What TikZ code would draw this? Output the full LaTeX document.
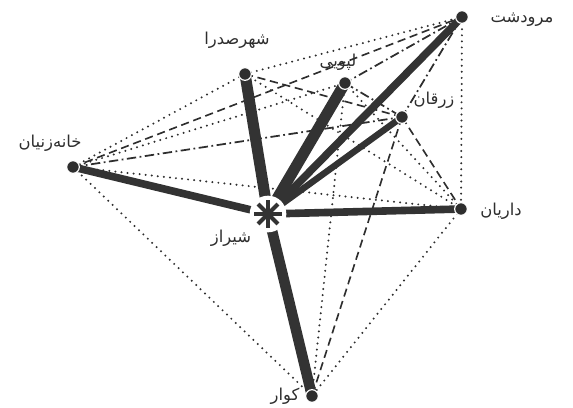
\documentclass[tikz,border=0pt]{standalone}
\usepackage{fontspec}
\usepackage{xcolor}
\usetikzlibrary{positioning,calc}
\newfontfamily\arabicfont[Script=Arabic]{DejaVu Sans}
\TeXXeTstate=1
\definecolor{ink}{HTML}{2E2E2E}
\definecolor{road}{HTML}{333333}
\tikzset{
    every picture/.style={line cap=round,line join=round},
    town/.style={circle,fill=ink,draw=white,line width=1pt,minimum size=3.8mm,inner sep=0pt},
    hub/.style={circle,fill=white,minimum size=11mm,inner sep=0pt},
    townlabel/.style={font=\arabicfont\fontsize{14}{16}\selectfont,text=ink,inner sep=1pt},
    mainroad/.style={draw=road,line cap=butt},
    dotlink/.style={draw=ink,line width=1.9pt,dash pattern=on 0pt off 5.2pt},
    dashlink/.style={draw=ink,line width=1.4pt,line cap=butt,dash pattern=on 7pt off 4pt},
    dashdotlink/.style={draw=ink,line width=1.5pt,line cap=butt,
      dash pattern=on 8pt off 3pt on 1.5pt off 3pt}
}
\newcommand{\rtl}[1]{\beginR #1\endR}
\begin{document}
\begin{tikzpicture}[x=0.03cm,y=-0.03cm]
  \useasboundingbox (0,0) rectangle (573,407);
  % towns
  \coordinate (shiraz) at (268,214);
  \coordinate (marv) at (462,17);
  \coordinate (sadra) at (245,74);
  \coordinate (lapui) at (345,83);
  \coordinate (zarqan) at (402,117);
  \coordinate (khaneh) at (73,167);
  \coordinate (daryan) at (461,209);
  \coordinate (kavar) at (312,396);
  % secondary links
  \draw[dotlink] (khaneh) -- (sadra);
  \draw[dotlink] (khaneh) -- (lapui);
  \draw[dotlink] (khaneh) -- (daryan);
  \draw[dotlink] (khaneh) -- (kavar);
  \draw[dotlink] (sadra) -- (marv);
  \draw[dotlink] (sadra) -- (daryan);
  \draw[dotlink] (lapui) -- (kavar);
  \draw[dotlink] (lapui) -- (daryan);
  \draw[dotlink] (daryan) -- (kavar);
  \draw[dotlink] (marv) -- (daryan);
  \draw[dashlink] (khaneh) -- (marv);
  \draw[dashlink] (sadra) -- (zarqan);
  \draw[dashlink] (zarqan) -- (kavar);
  \draw[dashlink] (zarqan) -- (daryan);
  \draw[dashdotlink] (khaneh) -- (zarqan);
  \draw[dashdotlink] (marv) -- (zarqan);
  \draw[dashdotlink] (lapui) -- (zarqan);
  \draw[dashdotlink] (marv) -- (lapui);
  % main roads
  \foreach \t/\w in {sadra/9.5pt,lapui/9.5pt,marv/6.5pt,zarqan/5.5pt,khaneh/6.5pt,daryan/6.5pt,kavar/9pt}
    \draw[mainroad,line width=\w] (shiraz) -- (\t);
  % nodes
  \node[hub] (sh) at (shiraz) {};
  \foreach \a in {0,45,...,315}
    \draw[draw=road,line width=3.4pt,line cap=butt] (sh.center) -- ++(\a:14);
  \foreach \t in {marv,sadra,lapui,zarqan,khaneh,daryan,kavar}
    \node[town] (n-\t) at (\t) {};
  % labels
  \node[townlabel] (l-marv) at (522,20) {\rtl{مرودشت}};
  \node[townlabel] (l-sadra) at (237,40) {\rtl{شهرصدرا}};
  \node[townlabel] (l-lapui) at (338,62) {\rtl{لپویی}};
  \node[townlabel] (l-zarqan) at (434,100) {\rtl{زرقان}};
  \node[townlabel] (l-khaneh) at (50,143) {\rtl{خانه‌زنیان}};
  \node[townlabel] (l-daryan) at (501,211) {\rtl{داریان}};
  \node[townlabel] (l-shiraz) at (231,238) {\rtl{شیراز}};
  \node[townlabel] (l-kavar) at (285,396) {\rtl{کوار}};
\end{tikzpicture}
\end{document}
